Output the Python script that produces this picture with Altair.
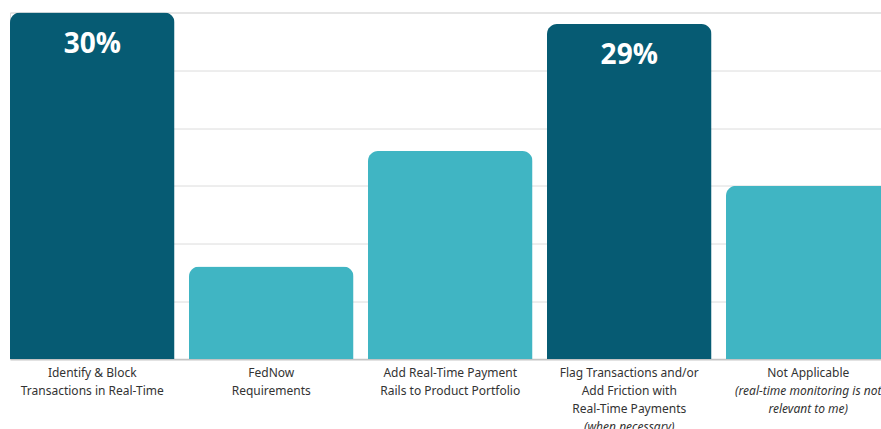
import altair as alt
import pandas as pd

# ---- data ----
categories = [
    "Identify & Block Transactions in Real-Time",
    "FedNow Requirements",
    "Add Real-Time Payment Rails to Product Portfolio",
    "Flag Transactions and/or Add Friction with Real-Time Payments",
    "Not Applicable",
]
values = [30, 8, 18, 29, 15]
highlight = [True, False, False, True, False]

# axis label lines (category, line number, text, italic)
line_cats = [0, 0, 1, 1, 2, 2, 3, 3, 3, 3, 4, 4, 4]
line_nums = [1, 2, 1, 2, 1, 2, 1, 2, 3, 4, 1, 2, 3]
line_texts = [
    "Identify & Block", "Transactions in Real-Time",
    "FedNow", "Requirements",
    "Add Real-Time Payment", "Rails to Product Portfolio",
    "Flag Transactions and/or", "Add Friction with", "Real-Time Payments", "(when necessary)",
    "Not Applicable", "(real-time monitoring is not", "relevant to me)",
]
line_italic = [False, False, False, False, False, False, False, False, False, True, False, True, True]

DARK = "#065b73"
LIGHT = "#40b5c3"

bars_df = pd.DataFrame({
    "category": categories,
    "value": values,
    "highlight": highlight,
    "label": [f"{v}%" for v in values],
})
lines_df = pd.DataFrame({
    "category": [categories[i] for i in line_cats],
    "line": line_nums,
    "text": line_texts,
    "italic": line_italic,
})

x_scale = alt.Scale(domain=categories, range=[0, 880.5], paddingInner=0.081, paddingOuter=0)
y_scale = alt.Scale(domain=[0, 30], nice=False, zero=True)

x_enc = alt.X("category:N", scale=x_scale, sort=categories,
              axis=alt.Axis(labels=False, ticks=False, title=None,
                            domainColor="#c4c4c4", domainWidth=1.5))

bars = alt.Chart(bars_df).mark_bar(
    cornerRadiusTopLeft=10, cornerRadiusTopRight=10
).encode(
    x=x_enc,
    y=alt.Y("value:Q", scale=y_scale,
            axis=alt.Axis(values=[0, 5, 10, 15, 20, 25, 30], labels=False, ticks=False,
                          domain=False, title=None, gridColor="#dcdcdc", gridWidth=1)),
    color=alt.Color("highlight:N", scale=alt.Scale(domain=[True, False], range=[DARK, LIGHT]),
                    legend=None),
)

value_text = alt.Chart(bars_df).transform_filter(
    alt.datum.highlight == True
).mark_text(
    color="white", font="Open Sans", fontWeight="bold", fontSize=28,
    baseline="alphabetic", dy=40
).encode(
    x=alt.X("category:N", scale=x_scale, sort=categories),
    y=alt.Y("value:Q", scale=y_scale),
    text="label:N",
)

line_y = alt.Y("line:Q", scale=alt.Scale(domain=[1, 4], range=[360.5, 414.5], zero=False, nice=False),
               axis=None)

normal_lines = alt.Chart(lines_df).transform_filter(
    alt.datum.italic == False
).mark_text(
    font="Noto Sans", fontSize=12, color="#333333", baseline="middle"
).encode(
    x=alt.X("category:N", scale=x_scale, sort=categories),
    y=line_y,
    text="text:N",
)

italic_lines = alt.Chart(lines_df).transform_filter(
    alt.datum.italic == True
).mark_text(
    font="Noto Sans", fontSize=12, color="#333333", baseline="middle", fontStyle="italic"
).encode(
    x=alt.X("category:N", scale=x_scale, sort=categories),
    y=line_y,
    text="text:N",
)

labels = alt.layer(normal_lines, italic_lines)

chart = alt.layer(
    alt.layer(bars, value_text),
    labels,
).resolve_scale(y="independent").properties(
    width=871,
    height=346.5,
    autosize=alt.AutoSizeParams(type="none"),
    padding={"left": 10, "top": 12.5, "right": 0, "bottom": 70},
).configure_view(stroke=None).configure(background="white")

chart.save("out.html", embed_options={"renderer": "svg", "actions": False})
